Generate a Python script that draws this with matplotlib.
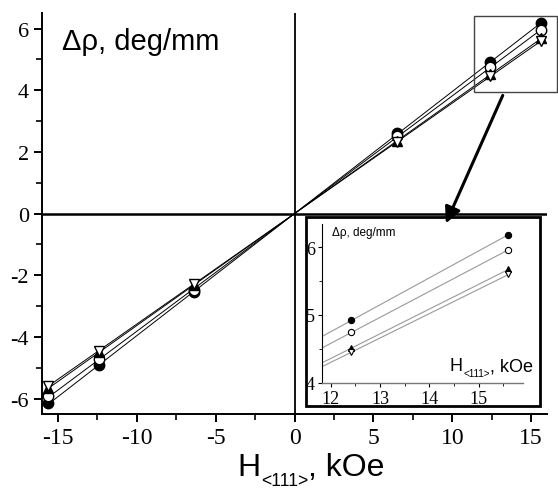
import numpy as np
import matplotlib

matplotlib.use("Agg")

import matplotlib.pyplot as plt
from matplotlib.patches import Rectangle, FancyArrowPatch
from matplotlib.ticker import MultipleLocator

plt.rcParams["axes.unicode_minus"] = False

# field values, kOe
field = np.array([-15.6, -12.4, -6.4, 6.5, 12.4, 15.6])

# rotation, deg/mm, one list per sample
filled_circle = np.array([-6.15, -4.92, -2.55, 2.60, 4.92, 6.18])
open_circle = np.array([-5.93, -4.73, -2.47, 2.52, 4.75, 5.95])
filled_up = np.array([-5.65, -4.50, -2.32, 2.36, 4.52, 5.68])
open_down = np.array([-5.58, -4.45, -2.28, 2.32, 4.46, 5.60])

x_ticks = [-15, -10, -5, 0, 5, 10, 15]
y_ticks = [-6, -4, -2, 0, 2, 4, 6]

series = [
    (filled_circle, "o", "black"),
    (open_circle, "o", "white"),
    (filled_up, "^", "black"),
    (open_down, "v", "white"),
]

SERIF = "Liberation Serif"
SANS = "Liberation Sans"


def slope_through_origin(x, y):
    return np.sum(x * y) / np.sum(x * x)


def field_label(owner, x, y, size, transform):
    # "H" + subscript "<111>" + ", kOe", chained by bounding boxes
    h = owner.text(x, y, "H", family=SANS, fontsize=size, ha="left", va="bottom",
                   transform=transform)
    sub = owner.annotate("<111>", xy=(1, 0), xycoords=h, xytext=(0.5, -0.22 * size),
                         textcoords="offset points", family=SANS, fontsize=size * 0.55,
                         ha="left", va="bottom")
    owner.annotate(", kOe", xy=(1, 0), xycoords=(sub, h), xytext=(0, 0),
                   textcoords="offset points", family=SANS, fontsize=size,
                   ha="left", va="bottom")


fig = plt.figure(figsize=(5.58, 4.89), dpi=100)
ax = fig.add_axes([0.0753, 0.1513, 0.905, 0.8197])

for values, marker, face in series:
    k = slope_through_origin(field, values)
    xs = np.array([field.min(), field.max()])
    ax.plot(xs, k * xs, color="black", lw=0.7, zorder=2)
    ax.plot(field, values, linestyle="none", marker=marker, markersize=7.5,
            markerfacecolor=face, markeredgecolor="black", markeredgewidth=1.0, zorder=3)

ax.set_xlim(-16, 16)
ax.set_ylim(-6.5, 6.5)
ax.axhline(0, color="black", lw=1.8, zorder=1)
ax.axvline(0, color="black", lw=1.3, zorder=1)
for side in ("top", "right"):
    ax.spines[side].set_visible(False)
for side in ("left", "bottom"):
    ax.spines[side].set_linewidth(1.4)
ax.set_xticks(x_ticks)
ax.set_yticks(y_ticks)
ax.xaxis.set_minor_locator(MultipleLocator(2.5))
ax.yaxis.set_minor_locator(MultipleLocator(1))
ax.tick_params(which="major", direction="out", length=6, width=1.4, labelfontfamily=SERIF)
ax.tick_params(which="minor", direction="out", length=4, width=1.2)
ax.tick_params(axis="x", labelsize=17)
ax.tick_params(axis="y", labelsize=16)

ax.text(0.04, 0.965, "\u0394\u03c1, deg/mm", transform=ax.transAxes, family=SANS,
        fontsize=21, va="top", ha="left")
field_label(ax, 0.425, 0.012, 23, fig.transFigure)

# marked zoom region
ax.add_patch(Rectangle((11.4, 3.95), 5.25, 2.47, fill=False, edgecolor="#444444",
                       lw=1.0, clip_on=False, zorder=4))

# inset frame
fig.add_artist(Rectangle((0.548, 0.168), 0.420, 0.386, transform=fig.transFigure,
                         fill=False, edgecolor="black", lw=2.0))

arrow = FancyArrowPatch((0.903, 0.808), (0.797, 0.536), transform=fig.transFigure,
                        arrowstyle="-|>", mutation_scale=24, lw=2.2, color="black")
fig.add_artist(arrow)

ins = fig.add_axes([0.577, 0.215, 0.36, 0.325])
ins.patch.set_alpha(0)
for values, marker, face in series:
    k = slope_through_origin(field, values)
    xs = np.array([11.82, field.max()])
    ins.plot(xs, k * xs, color="#999999", lw=0.8, zorder=2)
    ins.plot(field, values, linestyle="none", marker=marker, markersize=4.5,
             markerfacecolor=face, markeredgecolor="black", markeredgewidth=0.8, zorder=3)

ins.set_xlim(11.82, 15.9)
ins.set_ylim(4, 6.34)
for side in ("top", "right"):
    ins.spines[side].set_visible(False)
ins.spines["left"].set_linewidth(0.8)
ins.spines["bottom"].set_color("#777777")
ins.spines["bottom"].set_linewidth(1.0)
ins.set_xticks([12, 13, 14, 15])
ins.set_yticks([4, 5, 6])
ins.xaxis.set_minor_locator(MultipleLocator(0.5))
ins.yaxis.set_minor_locator(MultipleLocator(0.5))
ins.tick_params(which="major", direction="out", length=3, width=0.8, pad=2,
                labelsize=13, labelfontfamily=SERIF)
ins.tick_params(which="minor", direction="out", length=2, width=0.6)

ins.text(0.05, 0.985, "\u0394\u03c1, deg/mm", transform=ins.transAxes, family=SANS,
         fontsize=8.5, va="top", ha="left")
field_label(ins, 0.635, 0.055, 13, ins.transAxes)

fig.savefig("out.png", dpi=100)
